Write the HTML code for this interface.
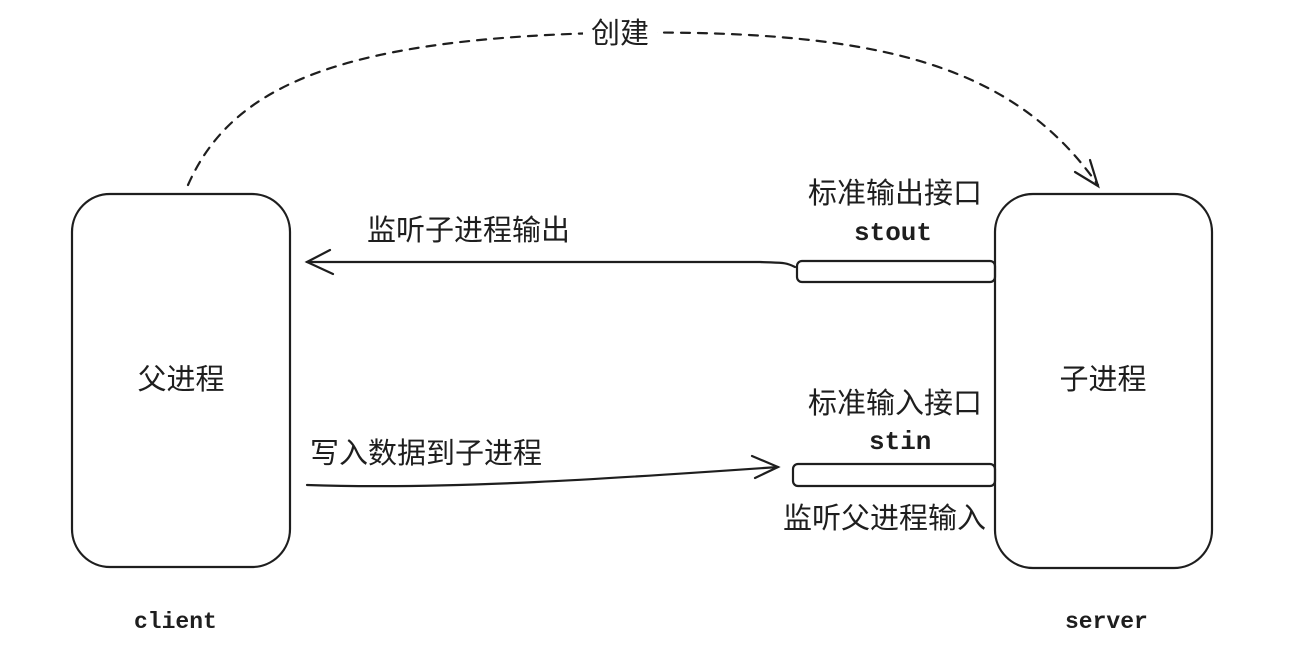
<!DOCTYPE html>
<html><head><meta charset="utf-8"><style>
html,body{margin:0;padding:0;background:#fff;}
svg{display:block;}
text{font-family:"Liberation Sans","Noto Sans CJK SC",sans-serif;fill:#1e1e1e;}
.cj{font-size:29px;}
.hand{font-family:"Liberation Mono","DejaVu Sans Mono",monospace;font-size:26px;font-weight:bold;}
.sm{font-family:"Liberation Mono","DejaVu Sans Mono",monospace;font-size:23px;font-weight:bold;}
</style></head><body>
<svg width="1290" height="655" viewBox="0 0 1290 655" xmlns="http://www.w3.org/2000/svg">
<g fill="none" stroke="#1e1e1e" stroke-width="2.2" stroke-linecap="round">
<rect x="72" y="194" width="218" height="373" rx="38"/>
<rect x="995" y="194" width="217" height="374" rx="38"/>
<rect x="797" y="261" width="198" height="21" rx="5"/>
<rect x="793" y="464" width="202" height="22" rx="5"/>
<path d="M188 185 C230 90 330 40 600 33 C870 28 1010 60 1098 185" stroke-dasharray="9 8"/>
<path d="M1075 172 L1098 186 L1090 160"/>
<path d="M795 267 C785 262 782 263 760 262 L307 262"/>
<path d="M330 250 L307 262 L333 274"/>
<path d="M307 485 C450 490 620 478 778 467"/>
<path d="M752 456 L778 467 L755 478"/>
</g>
<rect x="583" y="16" width="74" height="34" fill="#fff"/>
<text class="cj" x="620" y="43" text-anchor="middle">创建</text>
<text class="cj" x="181" y="389" text-anchor="middle">父进程</text>
<text class="cj" x="1103" y="389" text-anchor="middle">子进程</text>
<text class="cj" x="367" y="240">监听子进程输出</text>
<text class="cj" x="310" y="463">写入数据到子进程</text>
<text class="cj" x="808" y="203">标准输出接口</text>
<text class="hand" x="854" y="240">stout</text>
<text class="cj" x="808" y="413">标准输入接口</text>
<text class="hand" x="869" y="449">stin</text>
<text class="cj" x="783" y="528">监听父进程输入</text>
<text class="sm" x="134" y="628">client</text>
<text class="sm" x="1065" y="628">server</text>
</svg>
</body></html>
